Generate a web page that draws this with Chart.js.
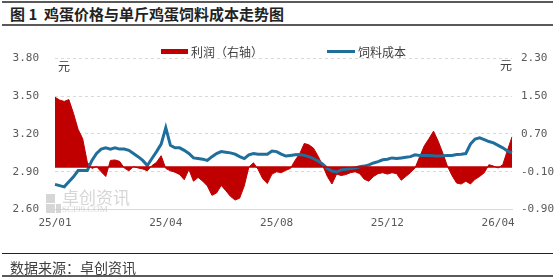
<!DOCTYPE html>
<html>
<head>
<meta charset="utf-8">
<script src="https://cdn.jsdelivr.net/npm/chart.js@4.4.1/dist/chart.umd.min.js"></script>
<style>
  body { margin: 0; width: 558px; height: 280px; position: relative; background: #fff; overflow: hidden;
         font-family: "Noto Sans CJK SC", sans-serif; }
  #chart { position: absolute; left: 0; top: 0; }
  .rule { position: absolute; left: 2px; width: 551px; }
  .txt { position: absolute; white-space: nowrap; }
</style>
</head>
<body>
<div class="rule" style="top:1px;height:2px;background:#595959"></div>
<div class="txt" style="left:10px;top:5px;font-size:15px;line-height:18px;font-weight:bold;color:#222">图 1&nbsp;&nbsp;鸡蛋价格与单斤鸡蛋饲料成本走势图</div>
<div class="rule" style="top:24px;height:2px;background:#595959"></div>

<canvas id="chart" width="558" height="280"></canvas>

<div class="txt" style="left:161px;top:49px;width:27px;height:5px;background:#C00000"></div>
<div class="txt" style="left:191px;top:44px;font-size:12px;line-height:16px;color:#404040">利润（右轴）</div>
<div class="txt" style="left:327px;top:50px;width:28px;height:3px;background:#1F6E9B"></div>
<div class="txt" style="left:358px;top:44px;font-size:12px;line-height:16px;color:#404040">饲料成本</div>
<div class="txt" style="left:58px;top:58px;font-size:12px;line-height:16px;color:#404040">元</div>
<div class="txt" style="left:500px;top:57px;font-size:12px;line-height:16px;color:#404040">元</div>

<div class="rule" style="top:253px;height:1px;background:#222"></div>
<div class="txt" style="left:10px;top:258px;font-size:14px;line-height:18px;color:#404040">数据来源：卓创资讯</div>
<div class="rule" style="top:275px;height:2px;background:#595959"></div>

<script>
// x-axis labels shown every 24 points
const tickLabels = ["25/01", "25/04", "25/08", "25/12", "26/04"];
const tickEvery = 24;

// 饲料成本 (元, left axis)
const feedCost = [
  2.80, 2.79, 2.78, 2.82, 2.86, 2.91, 2.91, 2.91, 2.99, 3.045,
  3.08, 3.09, 3.08, 3.09, 3.08, 3.08, 3.07, 3.045, 3.02, 2.99,
  2.95, 3.005, 3.06, 3.12, 3.25, 3.11, 3.09, 3.09, 3.07, 3.045,
  3.01, 3.005, 3.00, 2.99, 3.02, 3.045, 3.06, 3.055, 3.05, 3.04,
  3.02, 3.005, 3.035, 3.045, 3.04, 3.04, 3.04, 3.065, 3.06, 3.04,
  3.025, 3.03, 3.035, 3.037, 3.03, 3.02, 3.005, 2.985, 2.96, 2.925,
  2.906, 2.898, 2.915, 2.92, 2.925, 2.93, 2.94, 2.945, 2.955, 2.97,
  2.98, 2.995, 3.00, 3.01, 3.005, 3.01, 3.015, 3.02, 3.035, 3.03,
  3.03, 3.03, 3.027, 3.026, 3.027, 3.03, 3.03, 3.037, 3.04, 3.045,
  3.12, 3.16, 3.17, 3.155, 3.14, 3.13, 3.11, 3.09, 3.065, 3.05
];

// 利润 (元, right axis)
const profit = [
  1.48, 1.42, 1.39, 1.43, 1.14, 0.80, 0.60, 0.10, -0.03, 0.01,
  -0.10, -0.20, 0.14, 0.15, 0.12, -0.02, -0.08, 0.01, -0.02, -0.04,
  -0.08, 0.03, 0.10, 0.24, -0.03, -0.08, -0.11, -0.16, -0.27, -0.05,
  -0.30, -0.22, -0.30, -0.40, -0.60, -0.55, -0.39, -0.50, -0.62, -0.70,
  -0.66, -0.40, 0.00, 0.09, -0.05, -0.25, -0.35, -0.15, -0.10, -0.12,
  -0.07, -0.03, 0.14, 0.28, 0.50, 0.47, 0.40, 0.23, 0.03, -0.20,
  -0.36, -0.15, -0.18, -0.16, -0.12, -0.10, -0.14, -0.26, -0.30, -0.20,
  -0.14, -0.12, -0.15, -0.12, -0.14, -0.28, -0.20, -0.12, -0.02, 0.22,
  0.45, 0.60, 0.76, 0.55, 0.30, 0.02, -0.18, -0.34, -0.36, -0.30,
  -0.36, -0.26, -0.20, -0.12, 0.05, 0.02, -0.02, 0.05, 0.35, 0.64
];

const categories = feedCost.map((_, i) =>
  i % tickEvery === 0 && tickLabels[i / tickEvery] ? tickLabels[i / tickEvery] : "");

const axisFont = { family: "DejaVu Sans Mono", size: 11 };

// faint 卓创资讯 watermark + zero line of the right axis
const extras = {
  id: "extras",
  beforeDatasetsDraw(chart) {
    const ctx = chart.ctx;
    ctx.save();
    ctx.fillStyle = "rgba(200,200,200,0.75)";
    ctx.fillRect(46, 194, 9, 9);
    ctx.fillRect(46, 204, 9, 9);
    ctx.fillRect(56, 204, 5, 9);
    ctx.font = "17px 'Noto Sans CJK SC'";
    ctx.textBaseline = "middle";
    ctx.fillText("卓创资讯", 62, 198);
    ctx.font = "9px 'Liberation Serif'";
    ctx.fillText("SCI99.COM", 62, 210);
    ctx.restore();
  },
  afterDatasetsDraw(chart) {
    const ctx = chart.ctx;
    const y = chart.scales.y1.getPixelForValue(0);
    ctx.save();
    ctx.strokeStyle = "#C00000";
    ctx.lineWidth = 1.5;
    ctx.beginPath();
    ctx.moveTo(chart.chartArea.left, y);
    ctx.lineTo(chart.chartArea.right, y);
    ctx.stroke();
    ctx.restore();
  }
};

new Chart(document.getElementById("chart"), {
  type: "line",
  data: {
    labels: categories,
    datasets: [
      {
        label: "饲料成本",
        data: feedCost,
        yAxisID: "y",
        borderColor: "#1F6E9B",
        borderWidth: 3,
        pointRadius: 0,
        fill: false,
        tension: 0,
        order: 1,
      },
      {
        label: "利润（右轴）",
        data: profit,
        yAxisID: "y1",
        borderColor: "#C00000",
        backgroundColor: "#C00000",
        borderWidth: 1,
        pointRadius: 0,
        fill: "origin",
        tension: 0,
        order: 2,
      },
    ],
  },
  options: {
    responsive: false,
    animation: false,
    devicePixelRatio: 1,
    layout: { padding: { left: 0, right: 0, top: 58.5, bottom: 50.5 } },
    plugins: { legend: { display: false }, tooltip: { enabled: false } },
    scales: {
      x: {
        offset: false,
        grid: { display: false, drawTicks: false },
        border: { display: true, color: "#D9D9D9", width: 1 },
        ticks: {
          autoSkip: false,
          maxRotation: 0,
          padding: 7,
          color: "#595959",
          font: axisFont,
        },
        afterFit(scale) { scale.height = 20; },
      },
      y: {
        position: "left",
        min: 2.6,
        max: 3.8,
        grid: { color: "#D9D9D9", drawTicks: false },
        border: { display: false, dash: [3, 3] },
        ticks: {
          stepSize: 0.3,
          padding: 16,
          color: "#595959",
          font: axisFont,
          callback: (v) => v.toFixed(2),
        },
        afterFit(scale) { scale.width = 55; },
      },
      y1: {
        position: "right",
        min: -0.9,
        max: 2.3,
        grid: { display: false, drawTicks: false },
        border: { display: false },
        ticks: {
          stepSize: 0.8,
          padding: 9,
          color: "#595959",
          font: axisFont,
          callback: (v) => v.toFixed(2),
        },
        afterFit(scale) { scale.width = 46; },
      },
    },
  },
  plugins: [extras],
});
</script>
</body>
</html>
